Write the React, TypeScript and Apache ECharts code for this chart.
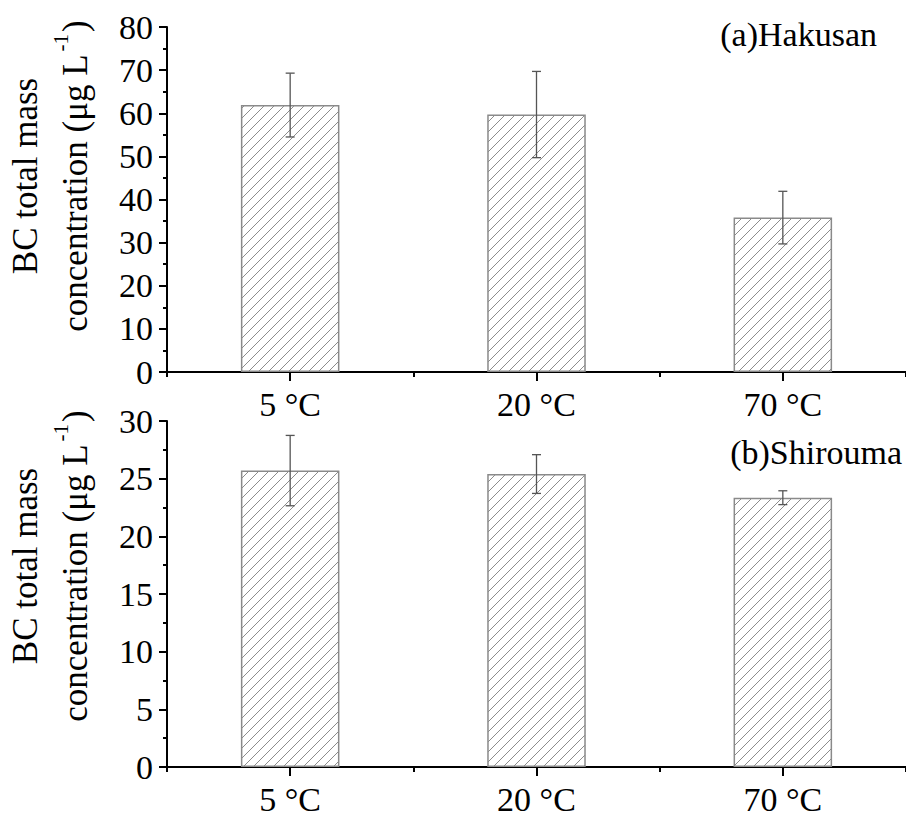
import React, { useEffect, useRef } from "react";
import * as echarts from "echarts";

const categories = ["5 °C", "20 °C", "70 °C"];
const hakusanMeans = [61.9, 59.7, 35.8];
const hakusanErrors = [7.4, 10.0, 6.1];
const shiroumaMeans = [25.7, 25.4, 23.35];
const shiroumaErrors = [3.05, 1.68, 0.6];
const topTicks = { min: 0, max: 80, interval: 10 };
const bottomTicks = { min: 0, max: 30, interval: 5 };
const panelLabels = ["(a)Hakusan", "(b)Shirouma"];

const FONT = '"Liberation Serif", "Times New Roman", serif';

function makeHatch(): HTMLCanvasElement {
  const s = 10;
  const c = document.createElement("canvas");
  c.width = s;
  c.height = s;
  const ctx = c.getContext("2d")!;
  ctx.fillStyle = "#ffffff";
  ctx.fillRect(0, 0, s, s);
  ctx.strokeStyle = "#8c8c8c";
  ctx.lineWidth = 1;
  ctx.beginPath();
  ctx.moveTo(-1, s + 1);
  ctx.lineTo(s + 1, -1);
  ctx.moveTo(-1, 1);
  ctx.lineTo(1, -1);
  ctx.moveTo(s - 1, s + 1);
  ctx.lineTo(s + 1, s - 1);
  ctx.stroke();
  return c;
}

export default function App() {
  const ref = useRef<HTMLDivElement>(null);
  useEffect(() => {
    if (!ref.current) return;
    const chart = echarts.init(ref.current, undefined, { renderer: "svg" });
    const hatch = makeHatch();
    const pattern: any = { image: hatch, repeat: "repeat", imageWidth: 10, imageHeight: 10 };

    const grids = [
      { left: 167, right: 0, top: 27, height: 345 },
      { left: 167, right: 0, top: 421, height: 346 },
    ];

    const xAxes: any[] = [];
    const yAxes: any[] = [];
    const series: any[] = [];
    const ticks = [topTicks, bottomTicks];
    const means = [hakusanMeans, shiroumaMeans];
    const errs = [hakusanErrors, shiroumaErrors];

    [0, 1].forEach((g) => {
      xAxes.push({
        type: "category",
        gridIndex: g,
        data: categories,
        position: "bottom",
        axisLine: { show: true, lineStyle: { color: "#000", width: 2 } },
        axisTick: { show: true, alignWithLabel: true, length: 9, lineStyle: { color: "#000", width: 2 } },
        axisLabel: { color: "#000", fontFamily: FONT, fontSize: 34, margin: 15 },
        splitLine: { show: false },
      });
      xAxes.push({
        type: "category",
        gridIndex: g,
        data: categories,
        position: "bottom",
        axisLine: { show: false },
        axisTick: { show: true, alignWithLabel: false, length: 5, lineStyle: { color: "#000", width: 2 } },
        axisLabel: { show: false },
        splitLine: { show: false },
      });
      yAxes.push({
        type: "value",
        gridIndex: g,
        min: ticks[g].min,
        max: ticks[g].max,
        interval: ticks[g].interval,
        axisLine: { show: true, lineStyle: { color: "#000", width: 2 } },
        axisTick: { show: true, length: 8, lineStyle: { color: "#000", width: 2 } },
        minorTick: { show: true, splitNumber: 2, length: 4, lineStyle: { color: "#000", width: 2 } },
        axisLabel: { color: "#000", fontFamily: FONT, fontSize: 34, margin: 14 },
        splitLine: { show: false },
      });
      series.push({
        type: "bar",
        xAxisIndex: g * 2,
        yAxisIndex: g,
        data: means[g],
        barWidth: "40%",
        itemStyle: { color: pattern, borderColor: "#8a8a8a", borderWidth: 1.5 },
        z: 2,
      });
      series.push({
        type: "custom",
        xAxisIndex: g * 2,
        yAxisIndex: g,
        data: means[g].map((m, i) => [i, m, errs[g][i]]),
        encode: { x: 0, y: 1 },
        z: 5,
        renderItem: (params: any, api: any) => {
          const x = api.value(0);
          const m = api.value(1);
          const e = api.value(2);
          const top = api.coord([x, m + e]);
          const bot = api.coord([x, m - e]);
          const half = 4.5;
          const st = { stroke: "#555555", lineWidth: 1.3 };
          return {
            type: "group",
            children: [
              { type: "line", shape: { x1: top[0], y1: top[1], x2: bot[0], y2: bot[1] }, style: st },
              { type: "line", shape: { x1: top[0] - half, y1: top[1], x2: top[0] + half, y2: top[1] }, style: st },
              { type: "line", shape: { x1: bot[0] - half, y1: bot[1], x2: bot[0] + half, y2: bot[1] }, style: st },
            ],
          };
        },
      });
    });

    const titleRich = {
      a: { fontFamily: FONT, fontSize: 35, lineHeight: 50, fill: "#000" },
      sup: { fontFamily: FONT, fontSize: 21, lineHeight: 46, fill: "#000", verticalAlign: "top", padding: [0, 2, 0, 3] },
    };
    const titleText = "{a|BC total mass}\n{a|concentration (μg L}{sup|-1}{a|)}";

    const graphic: any[] = [
      {
        type: "text",
        x: 50,
        y: 176,
        rotation: Math.PI / 2,
        style: { text: titleText, rich: titleRich, align: "center", verticalAlign: "middle", fill: "#000" },
      },
      {
        type: "text",
        x: 50,
        y: 566,
        rotation: Math.PI / 2,
        style: { text: titleText, rich: titleRich, align: "center", verticalAlign: "middle", fill: "#000" },
      },
      {
        type: "text",
        x: 877,
        y: 17,
        style: { text: panelLabels[0], fontFamily: FONT, fontSize: 34, fill: "#000", align: "right", verticalAlign: "top" },
      },
      {
        type: "text",
        x: 902,
        y: 435,
        style: { text: panelLabels[1], fontFamily: FONT, fontSize: 34, fill: "#000", align: "right", verticalAlign: "top" },
      },
    ];

    chart.setOption({
      animation: false,
      backgroundColor: "#ffffff",
      grid: grids,
      xAxis: xAxes,
      yAxis: yAxes,
      series,
      graphic,
    });
    return () => chart.dispose();
  }, []);
  return <div ref={ref} style={{ position: "absolute", left: 0, top: 0, width: 906, height: 820 }} />;
}
